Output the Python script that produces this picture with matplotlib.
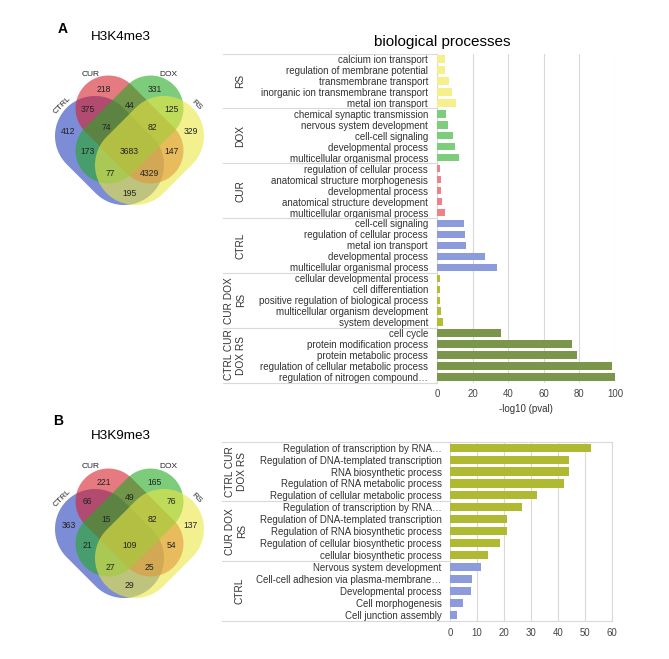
import numpy as np
import matplotlib
matplotlib.use('Agg')
import matplotlib.pyplot as plt
from matplotlib.patches import Polygon
import matplotlib.transforms as mtrans

plt.rcParams['font.family'] = ['Liberation Sans', 'DejaVu Sans']

# ---------------- data ----------------
venn_regions = ['CUR', 'DOX', 'CTRL&CUR', 'CUR&DOX', 'DOX&RS', 'CTRL',
                'CTRL&CUR&DOX', 'CUR&DOX&RS', 'RS', 'CTRL&DOX', 'ALL',
                'CUR&RS', 'CTRL&DOX&RS', 'CTRL&CUR&RS', 'CTRL&RS']
h3k4me3_counts = [218, 331, 375, 44, 125, 412, 74, 82, 329, 173, 3683, 147, 77, 4329, 195]
h3k9me3_counts = [221, 165, 66, 49, 76, 363, 15, 82, 137, 21, 109, 54, 27, 25, 29]
venn_sets = ['CTRL', 'CUR', 'DOX', 'RS']

a_groups = ['RS', 'DOX', 'CUR', 'CTRL', 'CUR DOX\nRS', 'CTRL CUR\nDOX RS']
a_rs_terms = ['calcium ion transport', 'regulation of membrane potential',
              'transmembrane transport', 'inorganic ion transmembrane transport',
              'metal ion transport']
a_rs_vals = [4.7, 4.7, 6.9, 8.2, 10.5]
a_dox_terms = ['chemical synaptic transmission', 'nervous system development',
               'cell-cell signaling', 'developmental process',
               'multicellular organismal process']
a_dox_vals = [4.9, 6.0, 8.8, 9.9, 12.6]
a_cur_terms = ['regulation of cellular process', 'anatomical structure morphogenesis',
               'developmental process', 'anatomical structure development',
               'multicellular organismal process']
a_cur_vals = [1.5, 2.0, 2.4, 2.8, 4.5]
a_ctrl_terms = ['cell-cell signaling', 'regulation of cellular process',
                'metal ion transport', 'developmental process',
                'multicellular organismal process']
a_ctrl_vals = [15.0, 15.9, 16.1, 27.0, 33.7]
a_cdr_terms = ['cellular developmental process', 'cell differentiation',
               'positive regulation of biological process',
               'multicellular organism development', 'system development']
a_cdr_vals = [1.9, 1.8, 1.8, 2.1, 3.2]
a_all_terms = ['cell cycle', 'protein modification process', 'protein metabolic process',
               'regulation of cellular metabolic process',
               'regulation of nitrogen compound\u2026']
a_all_vals = [36.0, 76.0, 78.7, 98.3, 100.0]

b_groups = ['CTRL CUR\nDOX RS', 'CUR DOX\nRS', 'CTRL']
b_all_terms = ['Regulation of transcription by RNA\u2026',
               'Regulation of DNA-templated transcription',
               'RNA biosynthetic process', 'Regulation of RNA metabolic process',
               'Regulation of cellular metabolic process']
b_all_vals = [52.2, 44.3, 44.0, 42.4, 32.3]
b_cdr_terms = ['Regulation of transcription by RNA\u2026',
               'Regulation of DNA-templated transcription',
               'Regulation of RNA biosynthetic process',
               'Regulation of cellular biosynthetic process',
               'cellular biosynthetic process']
b_cdr_vals = [26.6, 21.3, 21.0, 18.7, 14.0]
b_ctrl_terms = ['Nervous system development',
                'Cell-cell adhesion via plasma-membrane\u2026',
                'Developmental process', 'Cell morphogenesis', 'Cell junction assembly']
b_ctrl_vals = [11.5, 8.3, 7.9, 4.9, 2.5]

a_xticks = [0, 20, 40, 60, 80, 100]
b_xticks = [0, 10, 20, 30, 40, 50, 60]

# ---------------- styles / layout ----------------
W, H = 669, 659
fig = plt.figure(figsize=(W / 100, H / 100), dpi=100)
bg = fig.add_axes([0, 0, 1, 1])
bg.set_xlim(0, W)
bg.set_ylim(H, 0)
bg.axis('off')

venn_fill = {'CTRL': '#263fbc', 'CUR': '#d5212b', 'DOX': '#25aa25', 'RS': '#ebe844'}
# stadium geometry relative to venn centre (pixels, y down): centre, direction, half-length, radius
s2 = np.sqrt(0.5)
venn_shapes = {
    'CTRL': ((-20, 21), (s2, s2), 20.5, 40.0),
    'CUR': ((0, 0), (s2, s2), 29.8, 32.9),
    'DOX': ((0, 0), (-s2, s2), 29.8, 32.9),
    'RS': ((20, 21), (-s2, s2), 20.5, 40.0),
}
region_pos = {
    'CUR': (-25.5, -40), 'DOX': (25.5, -40), 'CTRL&CUR': (-42, -20.5),
    'CUR&DOX': (0, -24.5), 'DOX&RS': (42, -20.5), 'CTRL': (-61, 2.5),
    'CTRL&CUR&DOX': (-23, -2.5), 'CUR&DOX&RS': (23, -2.5), 'RS': (61, 2.5),
    'CTRL&DOX': (-42, 22.5), 'ALL': (0, 22.5), 'CUR&RS': (42, 22.5),
    'CTRL&DOX&RS': (-19.5, 44.5), 'CTRL&CUR&RS': (19.5, 44.5), 'CTRL&RS': (0, 63.5),
}
set_label_pos = {'CTRL': (-67, -24, 45), 'CUR': (-38.5, -55.5, 0),
                 'DOX': (38.5, -55.5, 0), 'RS': (67, -24, -45)}


def stadium(cx, cy, d, l, r):
    u = np.array(d)
    n = np.array([-u[1], u[0]])
    c = np.array([cx, cy])
    t1 = np.linspace(-np.pi / 2, np.pi / 2, 60)
    t2 = np.linspace(np.pi / 2, 3 * np.pi / 2, 60)
    p1 = c + l * u + r * (np.cos(t1)[:, None] * u + np.sin(t1)[:, None] * n)
    p2 = c - l * u + r * (np.cos(t2)[:, None] * u + np.sin(t2)[:, None] * n)
    return np.vstack([p1, p2])


def draw_venn(x0, y0, counts):
    for s in venn_sets:
        (dx, dy), d, l, r = venn_shapes[s]
        pts = stadium(x0 + dx, y0 + dy, d, l, r)
        bg.add_patch(Polygon(pts, closed=True, facecolor=venn_fill[s], alpha=0.6,
                             edgecolor='none'))
    for key, v in zip(venn_regions, counts):
        dx, dy = region_pos[key]
        bg.text(x0 + dx, y0 + dy, str(v), ha='center', va='center', fontsize=6.2,
                color='#222222')
    for s in venn_sets:
        dx, dy, rot = set_label_pos[s]
        bg.text(x0 + dx, y0 + dy, s, ha='center', va='center', fontsize=6.0,
                rotation=rot, color='#222222')


draw_venn(129.5, 129.5, h3k4me3_counts)
draw_venn(129.5, 522.5, h3k9me3_counts)

bg.text(63, 29, 'A', fontsize=10, fontweight='bold', ha='center', va='center')
bg.text(121, 37, 'H3K4me3', fontsize=9.7, ha='center', va='center')
bg.text(58, 421, 'B', fontsize=10, fontweight='bold', ha='center', va='center')
bg.text(121, 436, 'H3K9me3', fontsize=9.7, ha='center', va='center')
bg.text(442, 42, 'biological processes', fontsize=11, ha='center', va='center')
bg.text(526, 409, '-log10 (pval)', fontsize=7, ha='center', va='center', color='#333333')

grid_col = '#d9d9d9'
label_col = '#333333'


def px_axes(x0, y0, x1, y1):
    return fig.add_axes([x0 / W, 1 - y1 / H, (x1 - x0) / W, (y1 - y0) / H])


def bar_panel(box, terms_list, vals_list, colors, groups, xmax, xticks, pad_px,
              sep_x0, grp_x1, grp_x2, box_spines):
    ax = px_axes(*box)
    terms = sum(terms_list, [])
    vals = sum(vals_list, [])
    cols = sum([[c] * len(t) for c, t in zip(colors, terms_list)], [])
    y = np.arange(len(terms))
    ax.barh(y, vals, height=0.68, color=cols, zorder=3)
    ax.set_xlim(0, xmax)
    ax.set_ylim(len(terms) - 0.5, -0.5)
    ax.set_xticks(xticks)
    ax.set_yticks(y)
    ax.set_yticklabels(terms, fontsize=7.0, color=label_col)
    ax.tick_params(axis='y', length=0, pad=pad_px * 0.72)
    ax.tick_params(axis='x', length=0, pad=5, labelsize=6.9, labelcolor='#444444')
    ax.xaxis.grid(True, color=grid_col, lw=0.8, zorder=0)
    ax.set_axisbelow(True)
    for side, sp in ax.spines.items():
        sp.set_color(grid_col)
        sp.set_linewidth(0.8)
        sp.set_visible(side in box_spines)
    x0px, x1px = box[0], box[2]
    wpx = x1px - x0px
    tr = mtrans.blended_transform_factory(ax.transAxes, ax.transData)
    # group separators
    start = -0.5
    bounds = [start]
    for t in terms_list:
        start += len(t)
        bounds.append(start)
    for b in bounds:
        ax.plot([(sep_x0 - x0px) / wpx, 0], [b, b], color=grid_col, lw=0.8,
                transform=tr, clip_on=False)
    for g, t, lo in zip(groups, terms_list, bounds[:-1]):
        xc = grp_x2 if '\n' in g else grp_x1
        ax.text((xc - x0px) / wpx, lo + len(t) / 2, g, rotation=90, ha='center',
                va='center', fontsize=7.3, color=label_col, transform=tr,
                linespacing=1.2, multialignment='center')
    return ax


bar_panel((437, 53.5, 615, 382.5),
          [a_rs_terms, a_dox_terms, a_cur_terms, a_ctrl_terms, a_cdr_terms, a_all_terms],
          [a_rs_vals, a_dox_vals, a_cur_vals, a_ctrl_vals, a_cdr_vals, a_all_vals],
          ['#f5f08c', '#7dcd7d', '#f08287', '#8c9bdc', '#b4be32', '#7a964b'],
          a_groups, 100, a_xticks, 9, 223, 240, 235, ['left'])

bar_panel((450, 441.7, 611.7, 620.7),
          [b_all_terms, b_cdr_terms, b_ctrl_terms],
          [b_all_vals, b_cdr_vals, b_ctrl_vals],
          ['#afb932', '#afb932', '#8c9bdc'],
          b_groups, 60, b_xticks, 8.5, 222, 239, 236,
          ['left', 'right', 'top', 'bottom'])

fig.savefig('out.png', dpi=100)
